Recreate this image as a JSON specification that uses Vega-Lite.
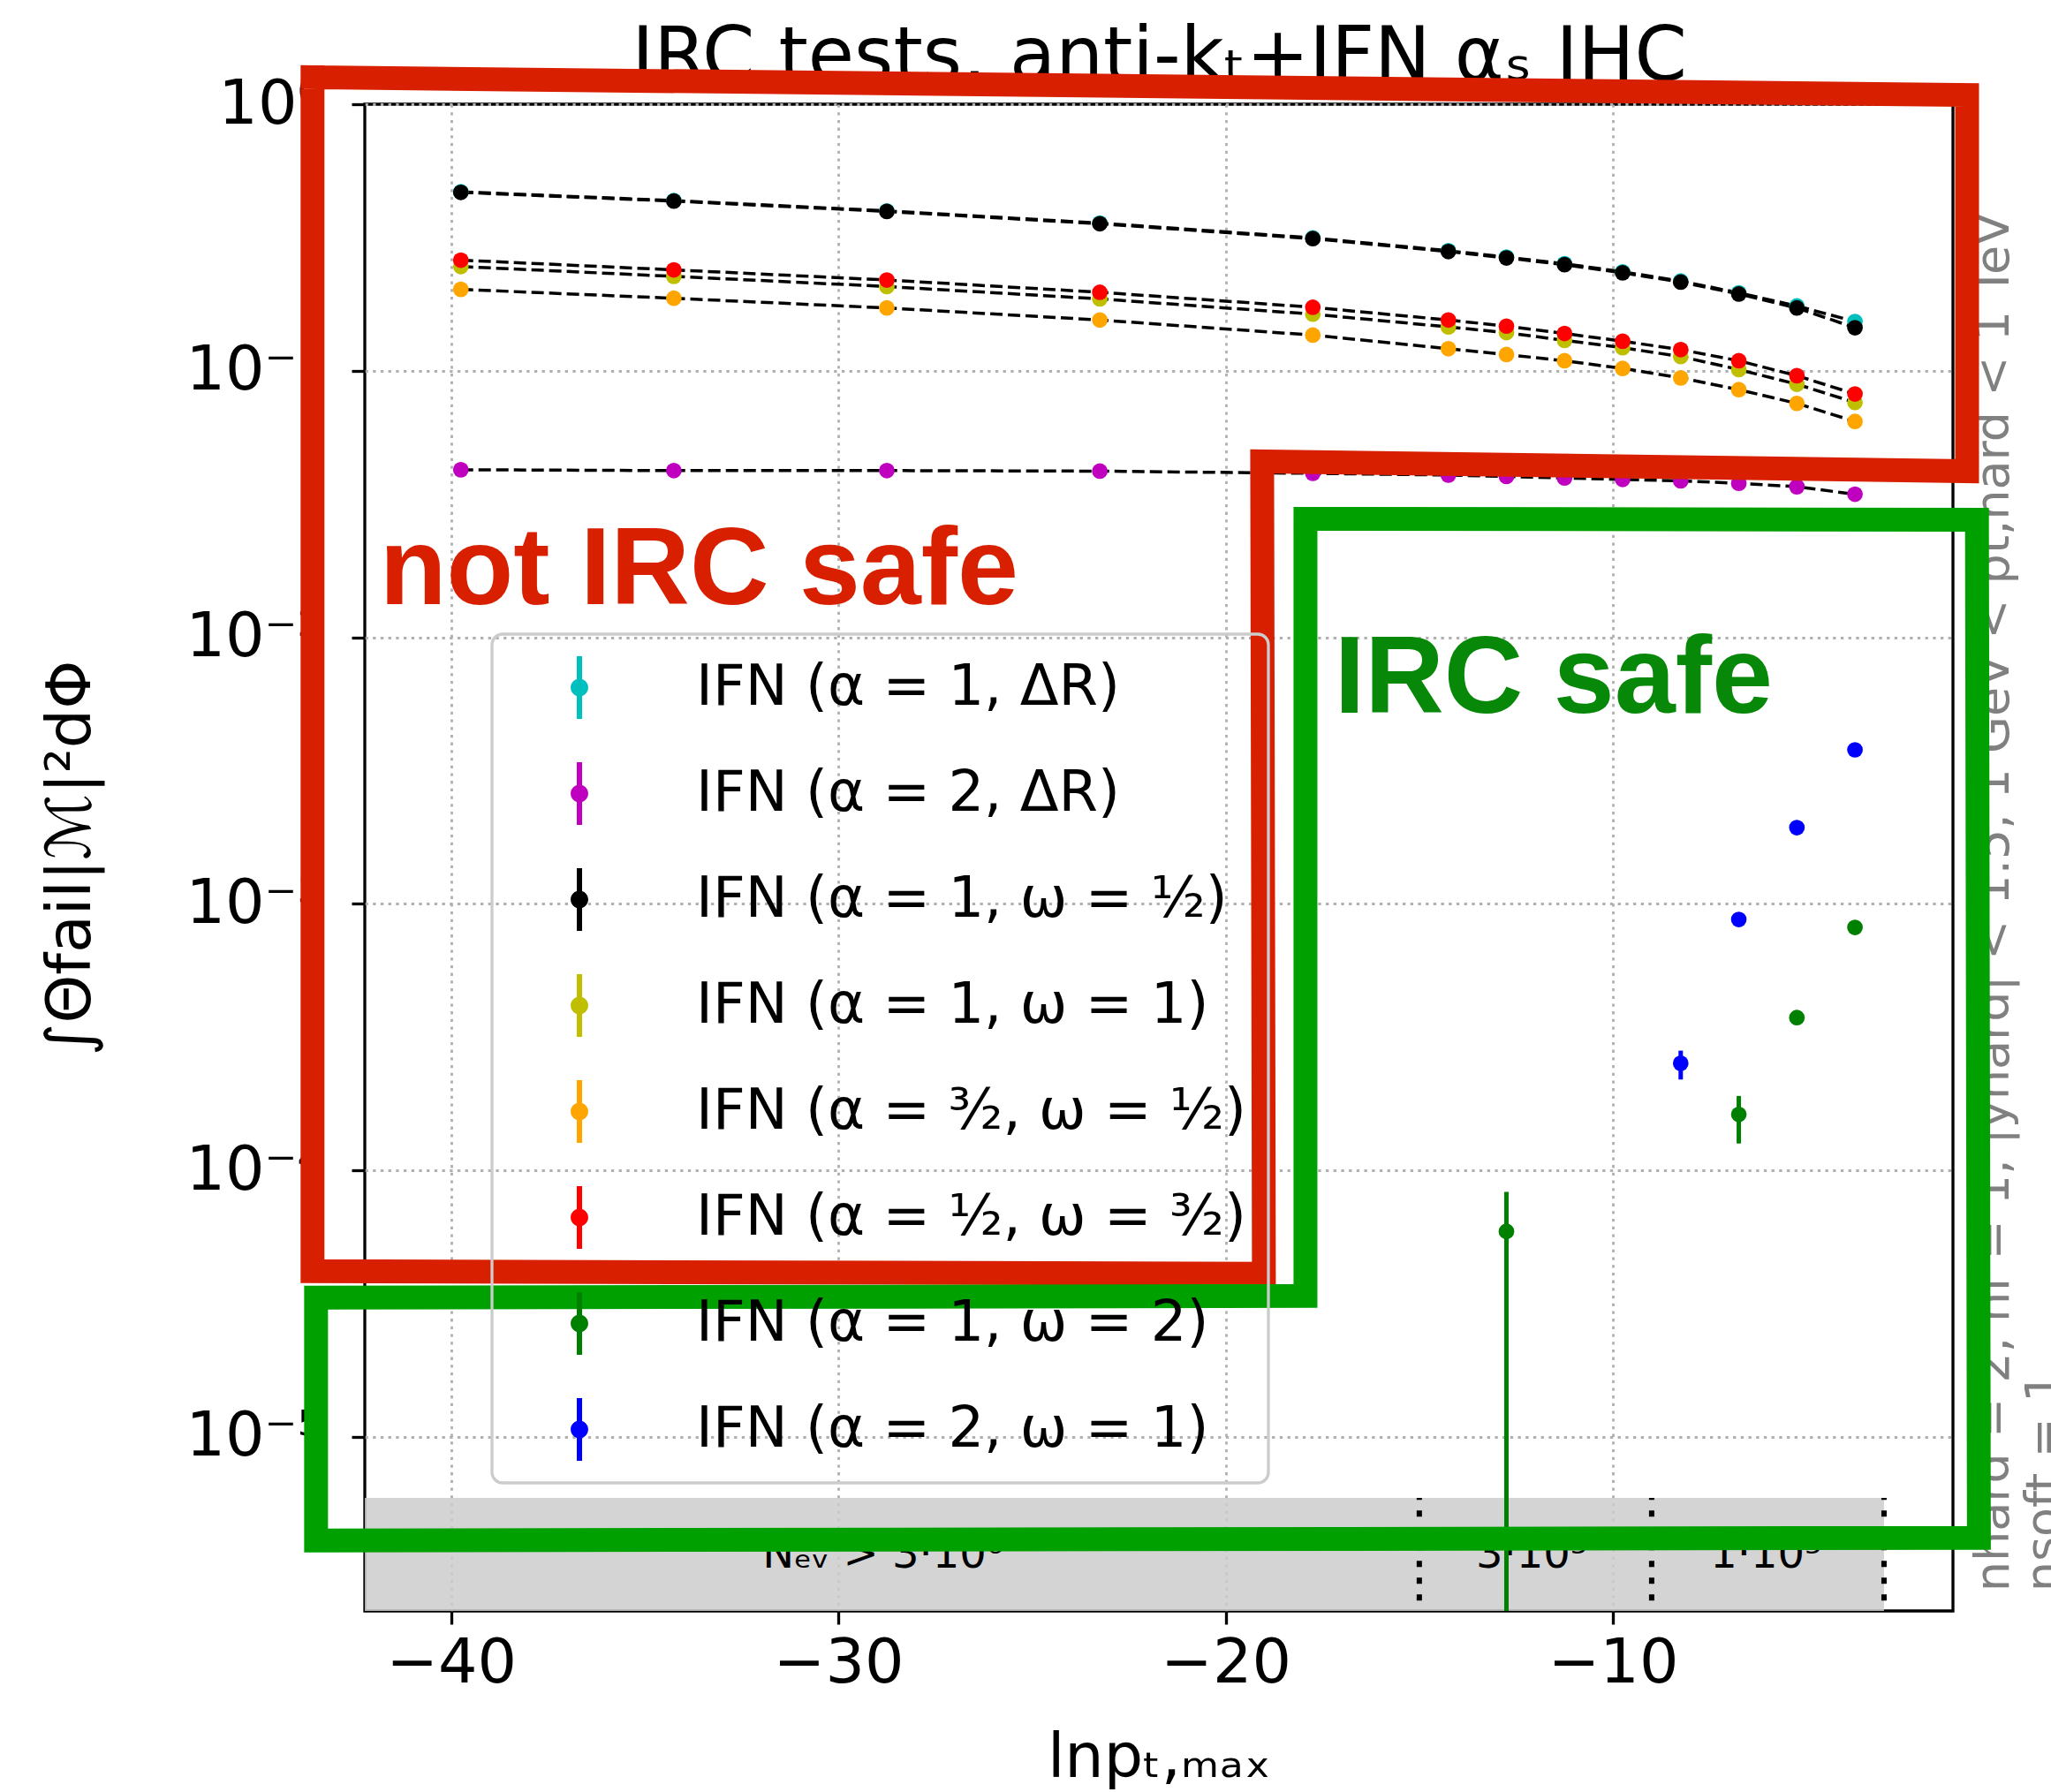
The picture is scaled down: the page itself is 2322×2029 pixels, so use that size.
{
  "$schema": "https://vega.github.io/schema/vega-lite/v6.json",
  "width": 1798,
  "height": 1706,
  "autosize": {"type": "none"},
  "padding": {"left": 413, "top": 118, "right": 111, "bottom": 205},
  "background": "white",
  "config": {
    "view": {"stroke": "black", "strokeWidth": 3.3},
    "font": "DejaVu Sans",
    "axis": {"labelFont": "DejaVu Sans", "labelFontSize": 70, "labelColor": "black", "titleFont": "DejaVu Sans", "titleFontSize": 70, "titleFontWeight": "normal", "titleColor": "black", "tickColor": "black", "tickWidth": 3.3, "tickSize": 15, "domain": false, "grid": true, "gridColor": "#b0b0b0", "gridDash": [3.3, 5.4], "gridWidth": 2.8, "labelFlush": false, "labelOverlap": false},
    "legend": {"strokeColor": "#cccccc", "strokeWidth": 3.3, "cornerRadius": 12, "fillColor": null}
  },
  "datasets": {
    "pts": [
      {"s": "IFN (α = 1, ΔR)", "x": -39.75, "y": 0.469},
      {"s": "IFN (α = 1, ΔR)", "x": -34.25, "y": 0.435},
      {"s": "IFN (α = 1, ΔR)", "x": -28.75, "y": 0.398},
      {"s": "IFN (α = 1, ΔR)", "x": -23.25, "y": 0.358},
      {"s": "IFN (α = 1, ΔR)", "x": -17.75, "y": 0.315},
      {"s": "IFN (α = 1, ΔR)", "x": -14.25, "y": 0.282},
      {"s": "IFN (α = 1, ΔR)", "x": -12.75, "y": 0.267},
      {"s": "IFN (α = 1, ΔR)", "x": -11.25, "y": 0.252},
      {"s": "IFN (α = 1, ΔR)", "x": -9.75, "y": 0.235},
      {"s": "IFN (α = 1, ΔR)", "x": -8.25, "y": 0.217},
      {"s": "IFN (α = 1, ΔR)", "x": -6.75, "y": 0.196},
      {"s": "IFN (α = 1, ΔR)", "x": -5.25, "y": 0.175},
      {"s": "IFN (α = 1, ΔR)", "x": -3.75, "y": 0.153},
      {"s": "IFN (α = 2, ΔR)", "x": -39.75, "y": 0.0425},
      {"s": "IFN (α = 2, ΔR)", "x": -34.25, "y": 0.0422},
      {"s": "IFN (α = 2, ΔR)", "x": -28.75, "y": 0.0422},
      {"s": "IFN (α = 2, ΔR)", "x": -23.25, "y": 0.0420},
      {"s": "IFN (α = 2, ΔR)", "x": -17.75, "y": 0.0412},
      {"s": "IFN (α = 2, ΔR)", "x": -14.25, "y": 0.0406},
      {"s": "IFN (α = 2, ΔR)", "x": -12.75, "y": 0.0401},
      {"s": "IFN (α = 2, ΔR)", "x": -11.25, "y": 0.0396},
      {"s": "IFN (α = 2, ΔR)", "x": -9.75, "y": 0.0391},
      {"s": "IFN (α = 2, ΔR)", "x": -8.25, "y": 0.0386},
      {"s": "IFN (α = 2, ΔR)", "x": -6.75, "y": 0.0378},
      {"s": "IFN (α = 2, ΔR)", "x": -5.25, "y": 0.0367},
      {"s": "IFN (α = 2, ΔR)", "x": -3.75, "y": 0.0344},
      {"s": "IFN (α = 1, ω = ½)", "x": -39.75, "y": 0.467},
      {"s": "IFN (α = 1, ω = ½)", "x": -34.25, "y": 0.433},
      {"s": "IFN (α = 1, ω = ½)", "x": -28.75, "y": 0.396},
      {"s": "IFN (α = 1, ω = ½)", "x": -23.25, "y": 0.356},
      {"s": "IFN (α = 1, ω = ½)", "x": -17.75, "y": 0.313},
      {"s": "IFN (α = 1, ω = ½)", "x": -14.25, "y": 0.280},
      {"s": "IFN (α = 1, ω = ½)", "x": -12.75, "y": 0.265},
      {"s": "IFN (α = 1, ω = ½)", "x": -11.25, "y": 0.250},
      {"s": "IFN (α = 1, ω = ½)", "x": -9.75, "y": 0.233},
      {"s": "IFN (α = 1, ω = ½)", "x": -8.25, "y": 0.215},
      {"s": "IFN (α = 1, ω = ½)", "x": -6.75, "y": 0.194},
      {"s": "IFN (α = 1, ω = ½)", "x": -5.25, "y": 0.172},
      {"s": "IFN (α = 1, ω = ½)", "x": -3.75, "y": 0.145},
      {"s": "IFN (α = 1, ω = 1)", "x": -39.75, "y": 0.246},
      {"s": "IFN (α = 1, ω = 1)", "x": -34.25, "y": 0.226},
      {"s": "IFN (α = 1, ω = 1)", "x": -28.75, "y": 0.207},
      {"s": "IFN (α = 1, ω = 1)", "x": -23.25, "y": 0.186},
      {"s": "IFN (α = 1, ω = 1)", "x": -17.75, "y": 0.163},
      {"s": "IFN (α = 1, ω = 1)", "x": -14.25, "y": 0.146},
      {"s": "IFN (α = 1, ω = 1)", "x": -12.75, "y": 0.139},
      {"s": "IFN (α = 1, ω = 1)", "x": -11.25, "y": 0.130},
      {"s": "IFN (α = 1, ω = 1)", "x": -9.75, "y": 0.122},
      {"s": "IFN (α = 1, ω = 1)", "x": -8.25, "y": 0.113},
      {"s": "IFN (α = 1, ω = 1)", "x": -6.75, "y": 0.101},
      {"s": "IFN (α = 1, ω = 1)", "x": -5.25, "y": 0.089},
      {"s": "IFN (α = 1, ω = 1)", "x": -3.75, "y": 0.0760},
      {"s": "IFN (α = ³⁄₂, ω = ½)", "x": -39.75, "y": 0.202},
      {"s": "IFN (α = ³⁄₂, ω = ½)", "x": -34.25, "y": 0.187},
      {"s": "IFN (α = ³⁄₂, ω = ½)", "x": -28.75, "y": 0.172},
      {"s": "IFN (α = ³⁄₂, ω = ½)", "x": -23.25, "y": 0.155},
      {"s": "IFN (α = ³⁄₂, ω = ½)", "x": -17.75, "y": 0.136},
      {"s": "IFN (α = ³⁄₂, ω = ½)", "x": -14.25, "y": 0.121},
      {"s": "IFN (α = ³⁄₂, ω = ½)", "x": -12.75, "y": 0.115},
      {"s": "IFN (α = ³⁄₂, ω = ½)", "x": -11.25, "y": 0.109},
      {"s": "IFN (α = ³⁄₂, ω = ½)", "x": -9.75, "y": 0.102},
      {"s": "IFN (α = ³⁄₂, ω = ½)", "x": -8.25, "y": 0.0940},
      {"s": "IFN (α = ³⁄₂, ω = ½)", "x": -6.75, "y": 0.0849},
      {"s": "IFN (α = ³⁄₂, ω = ½)", "x": -5.25, "y": 0.0754},
      {"s": "IFN (α = ³⁄₂, ω = ½)", "x": -3.75, "y": 0.0645},
      {"s": "IFN (α = ½, ω = ³⁄₂)", "x": -39.75, "y": 0.260},
      {"s": "IFN (α = ½, ω = ³⁄₂)", "x": -34.25, "y": 0.239},
      {"s": "IFN (α = ½, ω = ³⁄₂)", "x": -28.75, "y": 0.219},
      {"s": "IFN (α = ½, ω = ³⁄₂)", "x": -23.25, "y": 0.197},
      {"s": "IFN (α = ½, ω = ³⁄₂)", "x": -17.75, "y": 0.173},
      {"s": "IFN (α = ½, ω = ³⁄₂)", "x": -14.25, "y": 0.155},
      {"s": "IFN (α = ½, ω = ³⁄₂)", "x": -12.75, "y": 0.147},
      {"s": "IFN (α = ½, ω = ³⁄₂)", "x": -11.25, "y": 0.138},
      {"s": "IFN (α = ½, ω = ³⁄₂)", "x": -9.75, "y": 0.129},
      {"s": "IFN (α = ½, ω = ³⁄₂)", "x": -8.25, "y": 0.120},
      {"s": "IFN (α = ½, ω = ³⁄₂)", "x": -6.75, "y": 0.109},
      {"s": "IFN (α = ½, ω = ³⁄₂)", "x": -5.25, "y": 0.0958},
      {"s": "IFN (α = ½, ω = ³⁄₂)", "x": -3.75, "y": 0.0818},
      {"s": "IFN (α = 1, ω = 2)", "x": -12.75, "y": 0.000059},
      {"s": "IFN (α = 1, ω = 2)", "x": -6.75, "y": 0.000162},
      {"s": "IFN (α = 1, ω = 2)", "x": -5.25, "y": 0.000374},
      {"s": "IFN (α = 1, ω = 2)", "x": -3.75, "y": 0.000815},
      {"s": "IFN (α = 2, ω = 1)", "x": -8.25, "y": 0.000252},
      {"s": "IFN (α = 2, ω = 1)", "x": -6.75, "y": 0.000873},
      {"s": "IFN (α = 2, ω = 1)", "x": -5.25, "y": 0.00193},
      {"s": "IFN (α = 2, ω = 1)", "x": -3.75, "y": 0.00378}
    ],
    "err": [
      {"s": "IFN (α = 1, ω = 2)", "x": -12.75, "y": 0.00000001, "y2": 0.000083},
      {"s": "IFN (α = 1, ω = 2)", "x": -6.75, "y": 0.000126, "y2": 0.000190},
      {"s": "IFN (α = 2, ω = 1)", "x": -8.25, "y": 0.000219, "y2": 0.000281}
    ],
    "band": [{"x": -43, "x2": -3, "y": 0.0000001, "y2": 0.0000059}],
    "bandEdges": [
      {"x": -15, "y": 0.0000001, "y2": 0.0000059},
      {"x": -9, "y": 0.0000001, "y2": 0.0000059},
      {"x": -3, "y": 0.0000001, "y2": 0.0000059}
    ],
    "bandLabels": [
      {"x": -28.85, "y": 0.00000358, "t": "Nₑᵥ > 3·10⁶"},
      {"x": -12.1, "y": 0.00000358, "t": "3·10⁵"},
      {"x": -6.05, "y": 0.00000358, "t": "1·10⁵"}
    ],
    "sideText": [
      {"x": -0.15, "y": 0.00000262, "t": "nhard = 2, nf = 1, |yhard| < 1.5, 1 GeV < pt,hard < 1 TeV"},
      {"x": 1.15, "y": 0.00000262, "t": "nsoft = 1"}
    ],
    "boxes": [
      {"box": "not safe", "i": 0, "x": -43.58, "y": 1.262},
      {"box": "not safe", "i": 1, "x": -0.855, "y": 1.083},
      {"box": "not safe", "i": 2, "x": -0.855, "y": 0.04199},
      {"box": "not safe", "i": 3, "x": -19.058, "y": 0.04567},
      {"box": "not safe", "i": 4, "x": -19.013, "y": 0.00004087},
      {"box": "not safe", "i": 5, "x": -43.58, "y": 0.00004182},
      {"box": "not safe", "i": 6, "x": -43.58, "y": 1.262},
      {"box": "safe", "i": 0, "x": -17.94, "y": 0.02781},
      {"box": "safe", "i": 1, "x": -0.6, "y": 0.02761},
      {"box": "safe", "i": 2, "x": -0.55, "y": 0.000004174},
      {"box": "safe", "i": 3, "x": -43.488, "y": 0.00000408},
      {"box": "safe", "i": 4, "x": -43.488, "y": 0.00003324},
      {"box": "safe", "i": 5, "x": -17.94, "y": 0.00003377},
      {"box": "safe", "i": 6, "x": -17.94, "y": 0.02781}
    ],
    "notes": [
      {"box": "not safe", "x": -41.85, "y": 0.01327, "t": "not IRC safe"},
      {"box": "safe", "x": -17.19, "y": 0.00519, "t": "IRC safe"}
    ]
  },
  "resolve": {"axis": {"x": "independent"}},
  "layer": [
    {
      "encoding": {
        "x": {"field": "x", "type": "quantitative", "scale": {"domain": [-42.23, -1.22], "nice": false, "zero": false},
          "axis": {"values": [-40, -30, -20, -10], "title": "lnpₜ,ₘₐₓ", "titleY": 187, "titleBaseline": "alphabetic", "labelPadding": 10}},
        "y": {"field": "y", "type": "quantitative", "scale": {"type": "log", "domain": [0.00000222, 1], "nice": false},
          "axis": {"values": [1, 0.1, 0.01, 0.001, 0.0001, 0.00001], "labelExpr": "'10' + (datum.value >= 0.99 ? '⁰' : '⁻' + ['','¹','²','³','⁴','⁵','⁶'][round(-log(datum.value)/LN10)])", "title": "∫Θfail|ℳ|²dΦ", "titleAngle": 270, "titleX": -312, "titleY": 853, "titleBaseline": "alphabetic", "titleAlign": "center", "labelPadding": 34}}
      },
      "layer": [
        {"data": {"name": "band"}, "mark": {"type": "rect", "color": "#cdcdcd", "opacity": 0.85, "clip": true},
          "encoding": {"x2": {"field": "x2"}, "y2": {"field": "y2"}}},
        {"data": {"name": "bandEdges"}, "mark": {"type": "rule", "color": "black", "strokeWidth": 6, "strokeDash": [7, 12], "clip": true},
          "encoding": {"y2": {"field": "y2"}}},
        {"data": {"name": "bandLabels"}, "mark": {"type": "text", "fontSize": 48, "font": "DejaVu Sans", "color": "black", "align": "center", "baseline": "middle"},
          "encoding": {"text": {"field": "t"}}},
        {"data": {"name": "pts"}, "transform": [{"filter": {"field": "s", "oneOf": ["IFN (α = 1, ΔR)", "IFN (α = 2, ΔR)", "IFN (α = 1, ω = ½)", "IFN (α = 1, ω = 1)", "IFN (α = ³⁄₂, ω = ½)", "IFN (α = ½, ω = ³⁄₂)"]}}],
          "mark": {"type": "line", "color": "black", "strokeWidth": 3.5, "strokeDash": [14, 6]},
          "encoding": {"detail": {"field": "s"}}},
        {"data": {"name": "err"}, "transform": [{"filter": {"field": "s", "equal": "IFN (α = 1, ω = 2)"}}], "mark": {"type": "rule", "strokeWidth": 5, "clip": true, "color": "#008000"},
          "encoding": {"y2": {"field": "y2"}}},
        {"data": {"name": "err"}, "transform": [{"filter": {"field": "s", "equal": "IFN (α = 2, ω = 1)"}}], "mark": {"type": "rule", "strokeWidth": 5, "clip": true, "color": "#0000ff"},
          "encoding": {"y2": {"field": "y2"}}},
        {"data": {"name": "pts"}, "mark": {"type": "point", "shape": "circle", "filled": true, "size": 314, "opacity": 1, "strokeWidth": 0},
          "encoding": {"color": {"field": "s", "type": "nominal",
            "scale": {"domain": ["IFN (α = 1, ΔR)", "IFN (α = 2, ΔR)", "IFN (α = 1, ω = ½)", "IFN (α = 1, ω = 1)", "IFN (α = ³⁄₂, ω = ½)", "IFN (α = ½, ω = ³⁄₂)", "IFN (α = 1, ω = 2)", "IFN (α = 2, ω = 1)"],
              "range": ["#00bfbf", "#bf00bf", "#000000", "#bfbf00", "#ffa500", "#ff0000", "#008000", "#0000ff"]},
            "legend": {"orient": "none", "legendX": 144, "legendY": 600, "title": null, "padding": 25, "rowPadding": 49, "symbolOffset": 38.5, "labelOffset": 96.5, "symbolSize": 5041,
              "symbolType": "M-0.085,-1L0.085,-1L0.085,1L-0.085,1Z M-0.28,0A0.28,0.28,0,1,1,0.28,0A0.28,0.28,0,1,1,-0.28,0Z",
              "symbolStrokeWidth": 0, "symbolOpacity": 1, "labelFont": "DejaVu Sans", "labelFontSize": 64, "labelColor": "black", "labelLimit": 2000}}}},
        {"data": {"name": "sideText"}, "mark": {"type": "text", "angle": 270, "align": "left", "baseline": "middle", "fontSize": 54, "font": "DejaVu Sans", "color": "#808080"},
          "encoding": {"text": {"field": "t"}}},
        {"data": {"name": "boxes"}, "transform": [{"filter": "datum.box == 'not safe'"}], "mark": {"type": "line", "color": "#d82000", "strokeWidth": 27, "strokeJoin": "miter", "strokeCap": "square"},
          "encoding": {"order": {"field": "i"}}},
        {"data": {"name": "boxes"}, "transform": [{"filter": "datum.box == 'safe'"}], "mark": {"type": "line", "color": "#00a000", "strokeWidth": 27, "strokeJoin": "miter", "strokeCap": "square"},
          "encoding": {"order": {"field": "i"}}},
        {"data": {"name": "notes"}, "transform": [{"filter": "datum.box == 'not safe'"}], "mark": {"type": "text", "align": "left", "baseline": "alphabetic", "fontSize": 124, "fontWeight": "bold", "font": "Liberation Sans", "color": "#d82000"},
          "encoding": {"text": {"field": "t"}}},
        {"data": {"name": "notes"}, "transform": [{"filter": "datum.box == 'safe'"}], "mark": {"type": "text", "align": "left", "baseline": "alphabetic", "fontSize": 124, "fontWeight": "bold", "font": "Liberation Sans", "color": "#088808"},
          "encoding": {"text": {"field": "t"}}}
      ]
    },
    {
      "data": {"name": "band"},
      "mark": {"type": "text", "text": ""},
      "encoding": {
        "x": {"field": "x", "type": "quantitative", "scale": {"domain": [-42.23, -1.22], "nice": false, "zero": false},
          "axis": {"orient": "top", "title": "IRC tests, anti-kₜ+IFN αₛ IHC", "labels": false, "ticks": false, "grid": false, "domain": false, "titleFontSize": 85, "titleFont": "DejaVu Sans", "titleFontWeight": "normal", "titleColor": "black", "titleY": -28, "titleBaseline": "alphabetic"}}
      }
    }
  ]
}
